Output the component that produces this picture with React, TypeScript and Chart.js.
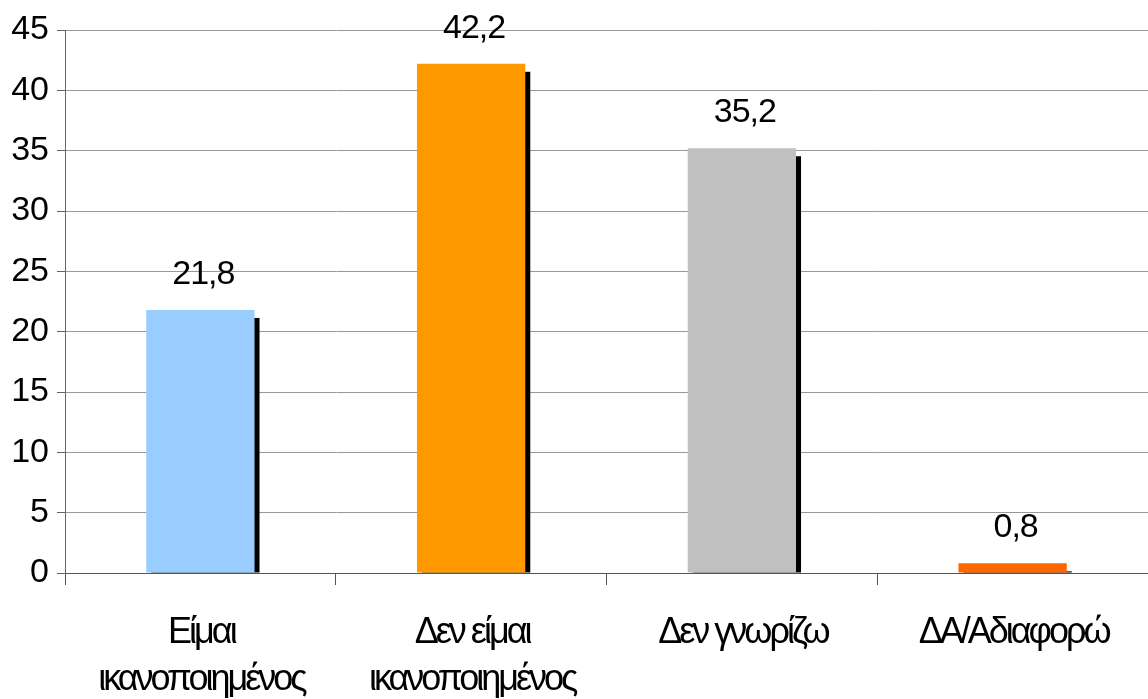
import React, { useEffect, useRef } from "react";
import { Chart, registerables } from "chart.js";

Chart.register(...registerables);

const categories: string[][] = [
  ["Είμαι", "ικανοποιημένος"],
  ["Δεν είμαι", "ικανοποιημένος"],
  ["Δεν γνωρίζω"],
  ["ΔΑ/Αδιαφορώ"],
];
const values: number[] = [21.8, 42.2, 35.2, 0.8];
const barColors: string[] = ["#99CCFF", "#FF9900", "#C0C0C0", "#FF6600"];
const yMin = 0;
const yMax = 45;
const yStep = 5;

const FONT = '"Liberation Sans", Arial, sans-serif';

const shadowPlugin = {
  id: "barShadow",
  beforeDatasetsDraw(chart: any) {
    const ctx = chart.ctx;
    const meta = chart.getDatasetMeta(0);
    ctx.save();
    ctx.fillStyle = "#000000";
    meta.data.forEach((el: any) => {
      const { x, y, base, width } = el.getProps(["x", "y", "base", "width"], true);
      const h = base - y - 8;
      if (h > 0) ctx.fillRect(x - width / 2 + 5, y + 8, width, h);
    });
    ctx.restore();
  },
};

const labelPlugin = {
  id: "valueLabels",
  afterDraw(chart: any) {
    const ctx = chart.ctx;
    const meta = chart.getDatasetMeta(0);
    ctx.save();
    ctx.fillStyle = "#000000";
    ctx.textAlign = "center";
    ctx.textBaseline = "alphabetic";
    ctx.font = `34px ${FONT}`;
    (ctx as any).letterSpacing = "-1px";
    meta.data.forEach((el: any, i: number) => {
      const { x, y } = el.getProps(["x", "y"], true);
      ctx.fillText(String(values[i]).replace(".", ","), x + 3, y - 26);
    });
    // category labels
    const xs = chart.scales.x;
    ctx.font = `36px ${FONT}`;
    (ctx as any).letterSpacing = "-3px";
    categories.forEach((lines, i) => {
      const cx = xs.getPixelForTick(i) + 1;
      lines.forEach((line, j) => {
        ctx.fillText(line, cx, xs.top + 70 + j * 47);
      });
    });
    ctx.restore();
  },
};

export default function App() {
  const ref = useRef<HTMLCanvasElement | null>(null);
  useEffect(() => {
    document.body.style.margin = "0";
    if (!ref.current) return;
    const chart = new Chart(ref.current, {
      type: "bar",
      data: {
        labels: categories,
        datasets: [
          {
            data: values,
            backgroundColor: barColors,
            borderWidth: 0,
            barPercentage: 0.4,
            categoryPercentage: 1.0,
          },
        ],
      },
      options: {
        animation: false,
        responsive: false,
        maintainAspectRatio: false,
        layout: { padding: { top: 30, right: 0, bottom: 0, left: 0 } },
        plugins: {
          legend: { display: false },
          tooltip: { enabled: false },
          title: { display: false },
        },
        scales: {
          x: {
            offset: true,
            grid: {
              display: true,
              offset: true,
              drawOnChartArea: false,
              drawTicks: true,
              tickLength: 12,
              color: "#555555",
            },
            border: { display: true, color: "#555555" },
            ticks: { display: false },
            afterFit: (scale: any) => {
              scale.height = 126;
            },
          },
          y: {
            min: yMin,
            max: yMax,
            ticks: {
              stepSize: yStep,
              color: "#000000",
              padding: 8,
              font: { family: FONT, size: 34 },
            },
            grid: {
              color: "#999999",
              tickLength: 8,
              tickColor: "#666666",
            },
            border: { display: true, color: "#666666" },
            afterFit: (scale: any) => {
              scale.width = 65;
            },
          },
        },
      },
      plugins: [shadowPlugin, labelPlugin],
    });
    return () => chart.destroy();
  }, []);
  return <canvas ref={ref} width={1148} height={699} style={{ display: "block", width: 1148, height: 699 }} />;
}
